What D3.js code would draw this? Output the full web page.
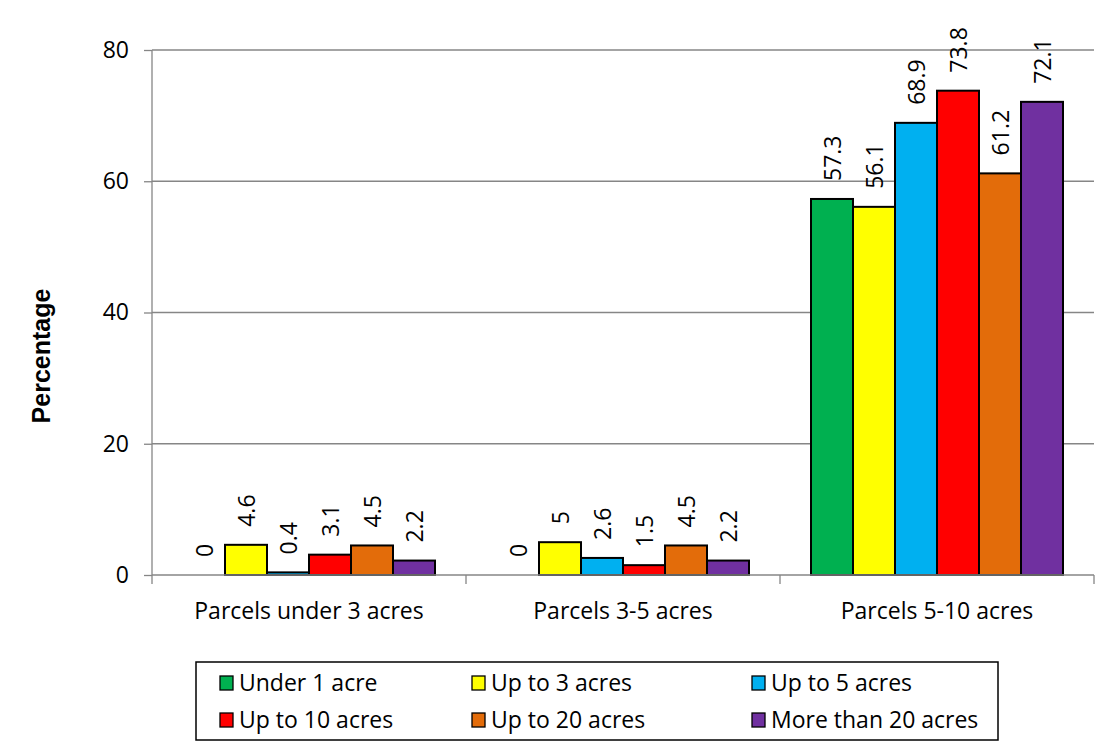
<!DOCTYPE html>
<html lang="en">
<head>
<meta charset="utf-8" />
<title>Parcels chart</title>
<script src="https://cdn.jsdelivr.net/npm/d3@7"></script>
<style>
  body { margin:0; background:#fff; }
  svg text { font-family:"Open Sans", "Noto Sans", sans-serif; fill:#000; }
</style>
</head>
<body>
<div id="chart"></div>
<script>
(function () {

  // --- data ---------------------------------------------------------------
  const categories = ["Parcels under 3 acres", "Parcels 3-5 acres", "Parcels 5-10 acres"];
  const seriesNames = ["Under 1 acre", "Up to 3 acres", "Up to 5 acres",
                       "Up to 10 acres", "Up to 20 acres", "More than 20 acres"];
  const seriesColors = ["#00b050", "#ffff00", "#00b0f0", "#ff0000", "#e36c0a", "#7030a0"];
  // values[series][category]
  const underOne   = [0,   0,   57.3];
  const upToThree  = [4.6, 5,   56.1];
  const upToFive   = [0.4, 2.6, 68.9];
  const upToTen    = [3.1, 1.5, 73.8];
  const upToTwenty = [4.5, 4.5, 61.2];
  const overTwenty = [2.2, 2.2, 72.1];
  const values = [underOne, upToThree, upToFive, upToTen, upToTwenty, overTwenty];
  const yTicks = [0, 20, 40, 60, 80];

  // --- layout -------------------------------------------------------------
  const W = 1115, H = 748;
  const margin = {top:50, right:21, bottom:173, left:152};
  const innerW = W - margin.left - margin.right;
  const innerH = H - margin.top - margin.bottom;
  const axisCol = "#868686";
  const fs = "23px";

  const svg = d3.select("#chart").append("svg")
    .attr("width", W).attr("height", H);
  const g = svg.append("g")
    .attr("transform", `translate(${margin.left},${margin.top})`);

  const x0 = d3.scaleBand().domain(categories).range([0, innerW]).paddingInner(0).paddingOuter(0);
  const x1 = d3.scaleBand().domain(d3.range(seriesNames.length))
    .range([31, x0.bandwidth() - 31]);
  const y = d3.scaleLinear().domain([0, 80]).range([innerH, 0]);

  // gridlines
  g.append("g").selectAll("line").data(yTicks.filter(d => d > 0)).join("line")
    .attr("x1", 0).attr("x2", innerW)
    .attr("y1", d => y(d)).attr("y2", d => y(d))
    .attr("stroke", axisCol).attr("stroke-width", 1.3);

  // bars + value labels
  const groups = g.append("g").selectAll("g").data(categories).join("g")
    .attr("transform", d => `translate(${x0(d)},0)`);

  groups.each(function (cat, ci) {
    const gg = d3.select(this);
    const pts = values.map((arr, si) => ({si, v: arr[ci]}));
    gg.selectAll("rect").data(pts.filter(p => p.v > 0)).join("rect")
      .attr("x", p => x1(p.si))
      .attr("y", p => y(p.v))
      .attr("width", x1.bandwidth())
      .attr("height", p => y(0) - y(p.v))
      .attr("fill", p => seriesColors[p.si])
      .attr("stroke", "#000").attr("stroke-width", 2);
    gg.selectAll("text").data(pts).join("text")
      .attr("transform", p => `translate(${x1(p.si) + x1.bandwidth() / 2 + 9},${y(p.v) - 18}) rotate(-90)`)
      .attr("text-anchor", "start")
      .style("font-size", fs)
      .text(p => p.v);
  });

  // y axis
  const yAxis = d3.axisLeft(y).tickValues(yTicks).tickSize(8).tickPadding(15).tickFormat(d3.format("d"));
  const yg = g.append("g").call(yAxis);
  yg.select(".domain").attr("stroke", axisCol).attr("stroke-width", 1.3)
    .attr("d", `M0,0V${innerH + 9}`);
  yg.selectAll(".tick line").attr("stroke", axisCol).attr("stroke-width", 1.3);
  yg.selectAll(".tick text").style("font-size", fs).attr("fill", "#000");

  // x axis
  const xg = g.append("g").attr("transform", `translate(0,${innerH})`);
  xg.append("line").attr("x1", 0).attr("x2", innerW)
    .attr("stroke", axisCol).attr("stroke-width", 1.3);
  xg.selectAll("line.tk").data(categories).join("line").attr("class", "tk")
    .attr("x1", d => x0(d) + x0.bandwidth()).attr("x2", d => x0(d) + x0.bandwidth())
    .attr("y1", 0).attr("y2", 9)
    .attr("stroke", axisCol).attr("stroke-width", 1.3);
  xg.selectAll("text").data(categories).join("text")
    .attr("x", d => x0(d) + x0.bandwidth() / 2)
    .attr("y", 44)
    .attr("text-anchor", "middle")
    .style("font-size", fs)
    .text(d => d);

  // y title
  svg.append("text")
    .attr("transform", `translate(50,356) rotate(-90)`)
    .attr("text-anchor", "middle")
    .style("font-family", "'Liberation Sans', Arial, sans-serif")
    .style("font-weight", "bold")
    .style("font-size", "25px")
    .text("Percentage");

  // legend
  const leg = svg.append("g").attr("transform", "translate(196,662)");
  leg.append("rect").attr("width", 802).attr("height", 78)
    .attr("fill", "none").attr("stroke", "#000").attr("stroke-width", 1.5);
  const colX = [24, 276, 556];
  const rowY = [21, 58];
  const items = leg.selectAll("g").data(seriesNames).join("g")
    .attr("transform", (d, i) => `translate(${colX[i % 3]},${rowY[Math.floor(i / 3)]})`);
  items.append("rect").attr("x", 0).attr("y", -7).attr("width", 13).attr("height", 14)
    .attr("fill", (d, i) => seriesColors[i]).attr("stroke", "#000").attr("stroke-width", 1.3);
  items.append("text").attr("x", 19).attr("y", 8)
    .style("font-size", fs)
    .text(d => d);

})();
</script>
</body>
</html>
